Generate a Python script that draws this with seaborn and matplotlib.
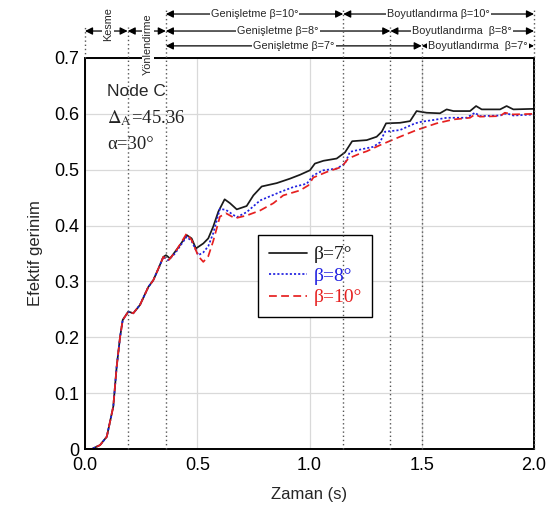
import numpy as np
import pandas as pd
import matplotlib
matplotlib.use("Agg")
import matplotlib.pyplot as plt
from matplotlib.ticker import MultipleLocator, FuncFormatter
import seaborn as sns

# --- data -------------------------------------------------------------
# shared initial loading ramp (all three cases coincide here)
ramp_t = [0.0, 0.03, 0.067, 0.097, 0.126, 0.141, 0.156, 0.168, 0.193, 0.215,
          0.245, 0.282, 0.304, 0.327, 0.349]
ramp_e = [0.0, 0.0, 0.007, 0.022, 0.076, 0.147, 0.200, 0.231, 0.246, 0.243,
          0.258, 0.290, 0.302, 0.323, 0.344]

# beta = 7 deg
t7 = [0.361, 0.379, 0.401, 0.423, 0.453, 0.475, 0.494, 0.527, 0.549, 0.571,
      0.594, 0.622, 0.646, 0.676, 0.72, 0.75, 0.787, 0.854, 0.913, 0.958,
      1.002, 1.024, 1.062, 1.121, 1.158, 1.19, 1.255, 1.299, 1.322, 1.341,
      1.403, 1.448, 1.477, 1.522, 1.581, 1.611, 1.641, 1.715, 1.742, 1.767,
      1.849, 1.878, 1.908, 2.0]
e7 = [0.347, 0.341, 0.353, 0.365, 0.383, 0.377, 0.359, 0.368, 0.377, 0.398,
      0.425, 0.447, 0.440, 0.429, 0.435, 0.454, 0.470, 0.476, 0.484, 0.491,
      0.499, 0.511, 0.516, 0.520, 0.531, 0.551, 0.553, 0.559, 0.568, 0.583,
      0.584, 0.587, 0.605, 0.602, 0.601, 0.608, 0.605, 0.605, 0.614, 0.608,
      0.608, 0.614, 0.608, 0.609]

# beta = 8 deg
t8 = [0.37, 0.401, 0.423, 0.453, 0.475, 0.505, 0.527, 0.549, 0.571, 0.601,
      0.628, 0.676, 0.72, 0.78, 0.869, 0.928, 0.988, 1.017, 1.062, 1.121,
      1.158, 1.18, 1.225, 1.284, 1.314, 1.336, 1.403, 1.47, 1.5, 1.552,
      1.611, 1.7, 1.737, 1.759, 1.849, 1.878, 1.908, 2.0]
e8 = [0.338, 0.350, 0.363, 0.380, 0.372, 0.347, 0.352, 0.363, 0.386, 0.430,
      0.428, 0.415, 0.424, 0.445, 0.460, 0.469, 0.475, 0.490, 0.499, 0.502,
      0.511, 0.532, 0.536, 0.541, 0.549, 0.568, 0.571, 0.583, 0.586, 0.589,
      0.593, 0.593, 0.602, 0.596, 0.597, 0.601, 0.597, 0.599]

# beta = 10 deg
t10 = [0.37, 0.401, 0.423, 0.453, 0.475, 0.505, 0.527, 0.549, 0.571, 0.601,
       0.628, 0.668, 0.72, 0.78, 0.839, 0.883, 0.958, 0.995, 1.017, 1.077,
       1.143, 1.173, 1.225, 1.255, 1.314, 1.403, 1.477, 1.566, 1.641, 1.715,
       1.737, 1.759, 1.849, 1.87, 1.908, 2.0]
e10 = [0.337, 0.352, 0.366, 0.386, 0.374, 0.345, 0.335, 0.345, 0.372, 0.416,
       0.422, 0.413, 0.418, 0.427, 0.440, 0.454, 0.463, 0.472, 0.486, 0.496,
       0.505, 0.520, 0.529, 0.533, 0.544, 0.559, 0.571, 0.583, 0.590, 0.593,
       0.599, 0.595, 0.596, 0.602, 0.599, 0.600]

series_labels = ["β=7°", "β=8°", "β=10°"]
series_colors = ["#1a1a1a", "#1f1fe0", "#e62020"]

# process stage boundaries (s)
stage_kesme_start = 0.0
stage_kesme_end = 0.19
stage_yon_end = 0.36
genis_end = {"10": 1.15, "8": 1.36, "7": 1.50}
t_end = 2.0

# --- style ------------------------------------------------------------
sns.set_style("white")
plt.rcParams["font.family"] = ["Liberation Sans", "DejaVu Sans"]
plt.rcParams["mathtext.fontset"] = "stix"

fig = plt.figure(figsize=(5.53, 5.17), dpi=100)
ax = fig.add_axes([85 / 553, 68 / 517, 449 / 553, 391 / 517])

serif = ["Liberation Serif", "DejaVu Serif"]

frames = []
for t, e, lab in [(t7, e7, series_labels[0]), (t8, e8, series_labels[1]),
                  (t10, e10, series_labels[2])]:
    frames.append(pd.DataFrame({"t": ramp_t + t, "e": ramp_e + e, "case": lab}))
df = pd.concat(frames, ignore_index=True)

styles = ["-", (0, (1.2, 1.2)), (0, (4.5, 2.5))]
for lab, col, ls in zip(series_labels, series_colors, styles):
    sub = df[df["case"] == lab]
    sns.lineplot(data=sub, x="t", y="e", color=col, linestyle=ls, lw=1.25,
                 ax=ax, sort=False, estimator=None, label=lab, legend=False)

ax.set_xlim(0, 2.0)
ax.set_ylim(0, 0.7)
ax.xaxis.set_major_locator(MultipleLocator(0.5))
ax.xaxis.set_minor_locator(MultipleLocator(0.1))
ax.yaxis.set_major_locator(MultipleLocator(0.1))
ax.yaxis.set_minor_locator(MultipleLocator(0.02))
ax.xaxis.set_major_formatter(FuncFormatter(lambda v, p: f"{v:.1f}"))
ax.yaxis.set_major_formatter(FuncFormatter(lambda v, p: "0" if abs(v) < 1e-9 else f"{v:.1f}"))
ax.tick_params(axis="both", which="major", direction="in", length=7, width=1.2,
               labelsize=13, colors="black")
ax.tick_params(axis="x", which="major", pad=6)
ax.tick_params(axis="y", which="major", pad=4)
ax.tick_params(axis="both", which="minor", direction="in", length=4, width=1.0)
ax.tick_params(top=False, right=False)
ax.grid(True, which="major", color="#d9d9d9", lw=0.9)
for s in ax.spines.values():
    s.set_color("black")
    s.set_linewidth(1.4)

ax.set_xlabel("Zaman (s)", fontsize=12, labelpad=9)
ax.set_ylabel("Efektif gerinim", fontsize=12, labelpad=8)

# case description
ax.text(0.098, 0.64, "Node C", fontsize=12.5, va="center", ha="left")
ax.text(0.098, 0.592, r"$\Delta_{\rm A}$=45.36", fontsize=13.5, va="center",
        ha="left", family=serif, color="#222222")
ax.text(0.098, 0.545, "α=30°", fontsize=13.5, va="center", ha="left",
        family=serif, color="#222222")

# legend
leg = ax.legend(loc="upper left", bbox_to_anchor=(0.385, 0.547),
                borderaxespad=0, frameon=True, fancybox=False,
                edgecolor="black", framealpha=1.0,
                prop={"family": serif, "size": 14}, handlelength=2.0,
                handletextpad=0.3, labelspacing=0.2, borderpad=0.55)
leg.get_frame().set_linewidth(1.0)
for txt, col in zip(leg.get_texts(), series_colors):
    txt.set_color(col)

# stage boundaries and annotations above the axes
trans = ax.get_xaxis_transform()
row1, row2, row3 = 1.1125, 1.069, 1.031
dot_kw = dict(color="#555555", ls=(0, (1, 2)), lw=1.0, clip_on=False,
              transform=trans, zorder=6)
ax.plot([stage_kesme_start, stage_kesme_start], [1.0, row2 + 0.01], **dot_kw)
ax.plot([stage_kesme_end] * 2, [0, row2 + 0.01], **dot_kw)
ax.plot([stage_yon_end] * 2, [0, row1 + 0.01], **dot_kw)
ax.plot([genis_end["10"]] * 2, [0, row1 + 0.01], **dot_kw)
ax.plot([genis_end["8"]] * 2, [0, row2 + 0.01], **dot_kw)
ax.plot([genis_end["7"]] * 2, [0, row3 + 0.01], **dot_kw)
ax.plot([t_end] * 2, [0, row1 + 0.01], **dot_kw)


def span(x0, x1, y, label, size=7.8):
    ax.annotate("", xy=(x1, y), xytext=(x0, y), xycoords=trans,
                textcoords=trans, annotation_clip=False,
                arrowprops=dict(arrowstyle="<|-|>", color="black", lw=0.9,
                                mutation_scale=11, shrinkA=0, shrinkB=0))
    if label:
        ax.text((x0 + x1) / 2, y, label, transform=trans, ha="center",
                va="center", fontsize=size, clip_on=False,
                bbox=dict(boxstyle="square,pad=0.1", fc="white", ec="none"))


span(stage_yon_end, genis_end["10"], row1, "Genişletme β=10°")
span(stage_yon_end, genis_end["8"], row2, "Genişletme β=8°")
span(stage_yon_end, genis_end["7"], row3, "Genişletme β=7°")
span(genis_end["10"], t_end, row1, "Boyutlandırma β=10°")
span(genis_end["8"], t_end, row2, "Boyutlandırma  β=8°")
span(genis_end["7"], t_end, row3, "Boyutlandırma  β=7°")
span(stage_kesme_start, stage_kesme_end, row2, None)
span(stage_kesme_end, stage_yon_end, row2, None)

ax.text(0.102, 1.086, "Kesme", transform=trans, rotation=90, ha="center",
        va="center", fontsize=7.8, clip_on=False,
        bbox=dict(boxstyle="square,pad=0.1", fc="white", ec="none"))
ax.text(0.28, 1.036, "Yönlendirme", transform=trans, rotation=90,
        ha="center", va="center", fontsize=7.8, clip_on=False, zorder=7,
        bbox=dict(boxstyle="square,pad=0.1", fc="white", ec="none"))

fig.savefig("out.png", dpi=100)
